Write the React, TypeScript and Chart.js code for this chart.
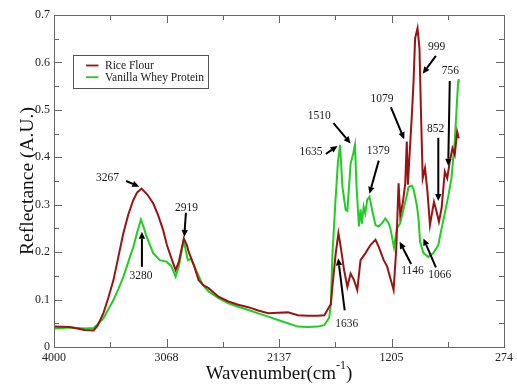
import { useEffect, useRef } from "react";
import { Chart, registerables } from "chart.js";

Chart.register(...registerables);

const xTickValues = [4000, 3068, 2137, 1205, 274];
const xTickLabels = ["4000", "3068", "2137", "1205", "274"];
const yTickValues = [0, 0.1, 0.2, 0.3, 0.4, 0.5, 0.6, 0.7];
const yTickLabels = ["0", "0.1", "0.2", "0.3", "0.4", "0.5", "0.6", "0.7"];

const seriesNames = ["Rice Flour", "Vanilla Whey Protein"];

const riceWavenumber = [
  4000, 3869, 3746, 3672, 3639, 3590, 3549, 3508, 3467, 3426, 3384, 3343, 3311, 3275, 3229, 3179, 3138, 3097,
  3065, 3029, 2993, 2966, 2941, 2925, 2900, 2884, 2843, 2802, 2761, 2720, 2638, 2556, 2474, 2391, 2309, 2227,
  2145, 2063, 1981, 1899, 1817, 1762, 1721, 1708, 1694, 1667, 1645, 1626, 1598, 1571, 1544, 1516, 1489, 1462,
  1421, 1380, 1338, 1311, 1270, 1242, 1215, 1188, 1166, 1147, 1133, 1111, 1092, 1079, 1070, 1056, 1037, 1023,
  1010, 990, 974, 961, 947, 928, 908, 887, 873, 854, 832, 813, 791, 764, 744, 723, 701, 682, 662, 649,
];
const riceReflectance = [
  0.043, 0.042, 0.036, 0.035, 0.045, 0.072, 0.105, 0.141, 0.19, 0.24, 0.28, 0.31, 0.326, 0.334, 0.322, 0.303, 0.278, 0.247,
  0.215, 0.188, 0.162, 0.18, 0.21, 0.229, 0.215, 0.2, 0.173, 0.141, 0.13, 0.124, 0.106, 0.096, 0.089, 0.084, 0.077, 0.071,
  0.072, 0.073, 0.067, 0.066, 0.066, 0.067, 0.085, 0.09, 0.13, 0.198, 0.24, 0.211, 0.162, 0.127, 0.155, 0.141, 0.12, 0.183,
  0.198, 0.215, 0.226, 0.211, 0.183, 0.17, 0.145, 0.12, 0.208, 0.345, 0.278, 0.306, 0.344, 0.433, 0.342, 0.405, 0.489, 0.559,
  0.651, 0.672, 0.63, 0.489, 0.356, 0.377, 0.328, 0.257, 0.278, 0.306, 0.285, 0.264, 0.292, 0.37, 0.356, 0.391, 0.419, 0.405, 0.454, 0.44,
];

const wheyWavenumber = [
  4000, 3869, 3746, 3672, 3639, 3590, 3549, 3508, 3467, 3426, 3384, 3343, 3311, 3280, 3261, 3234, 3179, 3124,
  3070, 3029, 2993, 2966, 2941, 2925, 2892, 2865, 2824, 2769, 2720, 2638, 2556, 2474, 2391, 2309, 2227, 2145,
  2063, 1981, 1899, 1817, 1762, 1721, 1708, 1694, 1669, 1649, 1631, 1612, 1585, 1571, 1544, 1522, 1508, 1495,
  1475, 1462, 1450, 1436, 1423, 1407, 1388, 1366, 1338, 1311, 1284, 1257, 1229, 1215, 1185, 1160, 1133, 1105,
  1078, 1064, 1037, 1023, 996, 982, 969, 941, 900, 859, 818, 791, 764, 736, 709, 682, 668, 654, 649,
];
const wheyReflectance = [
  0.039, 0.041, 0.039, 0.04, 0.048, 0.061, 0.08, 0.099, 0.122, 0.148, 0.18, 0.211, 0.242, 0.269, 0.255, 0.233, 0.198, 0.183,
  0.18, 0.171, 0.148, 0.17, 0.205, 0.224, 0.183, 0.186, 0.162, 0.131, 0.117, 0.103, 0.092, 0.085, 0.078, 0.071, 0.064, 0.057,
  0.05, 0.043, 0.042, 0.043, 0.046, 0.062, 0.09, 0.198, 0.31, 0.39, 0.426, 0.338, 0.289, 0.287, 0.387, 0.408, 0.426, 0.338,
  0.254, 0.29, 0.26, 0.296, 0.282, 0.31, 0.317, 0.289, 0.257, 0.254, 0.261, 0.271, 0.261, 0.25, 0.21, 0.25, 0.261, 0.292,
  0.32, 0.338, 0.34, 0.333, 0.299, 0.271, 0.222, 0.198, 0.19, 0.198, 0.215, 0.25, 0.282, 0.317, 0.356, 0.433, 0.496, 0.559, 0.565,
];

// peak annotations, in data coordinates (wavenumber, reflectance)
const peakLabels = ["3267", "3280", "2919", "1635", "1510", "1379", "1079", "999", "756", "852", "1146", "1066", "1636"];
const peakTextWn = [3557, 3280, 2903, 1872, 1803, 1316, 1284, 832, 717, 840, 1031, 805, 1576];
const peakTextVal = [0.357, 0.15, 0.294, 0.412, 0.487, 0.414, 0.523, 0.633, 0.583, 0.459, 0.16, 0.152, 0.048];
const arrowFromWn = [3403, 3272, 2908, 1749, 1686, 1311, 1210, 838, 723, 818, 1043, 838, 1593];
const arrowFromVal = [0.35, 0.169, 0.283, 0.407, 0.472, 0.393, 0.505, 0.614, 0.561, 0.441, 0.175, 0.168, 0.077];
const arrowToWn = [3294, 3272, 2921, 1653, 1544, 1388, 1100, 947, 736, 818, 1138, 941, 1647];
const arrowToVal = [0.338, 0.243, 0.232, 0.424, 0.429, 0.323, 0.438, 0.576, 0.382, 0.308, 0.222, 0.229, 0.187];

const RED = "#981414";
const GREEN = "#22cc22";
const SERIF = '"Liberation Serif", "Times New Roman", serif';

function toPoints(xs: number[], ys: number[]) {
  return xs.map((x, i) => ({ x, y: ys[i] }));
}

const decorPlugin = {
  id: "decor",
  afterDatasetsDraw(chart: any) {
    const ctx = chart.ctx as CanvasRenderingContext2D;
    const xs = chart.scales.x;
    const ys = chart.scales.y;
    const a = chart.chartArea;
    ctx.save();

    // frame
    ctx.strokeStyle = "#666";
    ctx.lineWidth = 1;
    ctx.strokeRect(Math.round(a.left) + 0.5, Math.round(a.top) + 0.5, Math.round(a.right - a.left), Math.round(a.bottom - a.top));

    // inside ticks
    ctx.beginPath();
    for (let i = 0; i < xTickValues.length; i++) {
      const px = Math.round(xs.getPixelForValue(xTickValues[i])) + 0.5;
      ctx.moveTo(px, a.bottom);
      ctx.lineTo(px, a.bottom - 8);
      ctx.moveTo(px, a.top);
      ctx.lineTo(px, a.top + 8);
      if (i < xTickValues.length - 1) {
        const mid = (xTickValues[i] + xTickValues[i + 1]) / 2;
        const pm = Math.round(xs.getPixelForValue(mid)) + 0.5;
        ctx.moveTo(pm, a.bottom);
        ctx.lineTo(pm, a.bottom - 5);
        ctx.moveTo(pm, a.top);
        ctx.lineTo(pm, a.top + 5);
      }
    }
    for (let i = 0; i < yTickValues.length; i++) {
      const py = Math.round(ys.getPixelForValue(yTickValues[i])) + 0.5;
      ctx.moveTo(a.left, py);
      ctx.lineTo(a.left + 8, py);
      ctx.moveTo(a.right, py);
      ctx.lineTo(a.right - 8, py);
      if (i < yTickValues.length - 1) {
        const mid = (yTickValues[i] + yTickValues[i + 1]) / 2;
        const pm = Math.round(ys.getPixelForValue(mid)) + 0.5;
        ctx.moveTo(a.left, pm);
        ctx.lineTo(a.left + 5, pm);
        ctx.moveTo(a.right, pm);
        ctx.lineTo(a.right - 5, pm);
      }
    }
    ctx.stroke();

    // annotations
    ctx.strokeStyle = "#000";
    ctx.font = `11.5px ${SERIF}`;
    ctx.textAlign = "center";
    ctx.textBaseline = "middle";
    for (let i = 0; i < peakLabels.length; i++) {
      const tx = xs.getPixelForValue(peakTextWn[i]);
      const ty = ys.getPixelForValue(peakTextVal[i]);
      ctx.fillStyle = "#1a1a1a";
      ctx.fillText(peakLabels[i], tx, ty);
      const x0 = xs.getPixelForValue(arrowFromWn[i]);
      const y0 = ys.getPixelForValue(arrowFromVal[i]);
      const x1 = xs.getPixelForValue(arrowToWn[i]);
      const y1 = ys.getPixelForValue(arrowToVal[i]);
      const ang = Math.atan2(y1 - y0, x1 - x0);
      const head = 7;
      const bx = x1 - head * Math.cos(ang);
      const by = y1 - head * Math.sin(ang);
      ctx.lineWidth = 2;
      ctx.beginPath();
      ctx.moveTo(x0, y0);
      ctx.lineTo(bx, by);
      ctx.stroke();
      ctx.fillStyle = "#000";
      ctx.beginPath();
      ctx.moveTo(x1, y1);
      ctx.lineTo(bx + 3.2 * Math.sin(ang), by - 3.2 * Math.cos(ang));
      ctx.lineTo(bx - 3.2 * Math.sin(ang), by + 3.2 * Math.cos(ang));
      ctx.closePath();
      ctx.fill();
    }

    // legend
    const lx = a.left + 19.5;
    const ly = a.top + 40.5;
    ctx.lineWidth = 1;
    ctx.strokeStyle = "#555";
    ctx.strokeRect(lx, ly, 135, 33);
    const colors = [RED, GREEN];
    ctx.font = `11.5px ${SERIF}`;
    ctx.textAlign = "left";
    ctx.textBaseline = "middle";
    for (let i = 0; i < seriesNames.length; i++) {
      const yy = ly + 10 + i * 11.7;
      ctx.strokeStyle = colors[i];
      ctx.lineWidth = 1.8;
      ctx.beginPath();
      ctx.moveTo(lx + 12.5, yy);
      ctx.lineTo(lx + 25, yy);
      ctx.stroke();
      ctx.fillStyle = "#1a1a1a";
      ctx.fillText(seriesNames[i], lx + 31.5, yy + 0.5);
    }

    // axis titles
    ctx.fillStyle = "#111";
    ctx.textBaseline = "alphabetic";
    const main = "Wavenumber(cm";
    const sup = "-1";
    const close = ")";
    ctx.font = `19px ${SERIF}`;
    const wMain = ctx.measureText(main).width;
    const wClose = ctx.measureText(close).width;
    ctx.font = `12px ${SERIF}`;
    const wSup = ctx.measureText(sup).width;
    const total = wMain + wSup + wClose;
    const cx = (a.left + a.right) / 2;
    let sx = cx - total / 2;
    const base = a.bottom + 32;
    ctx.textAlign = "left";
    ctx.font = `19px ${SERIF}`;
    ctx.fillText(main, sx, base);
    sx += wMain;
    ctx.font = `12px ${SERIF}`;
    ctx.fillText(sup, sx, base - 10);
    sx += wSup;
    ctx.font = `19px ${SERIF}`;
    ctx.fillText(close, sx, base);

    ctx.save();
    ctx.translate(33, (a.top + a.bottom) / 2);
    ctx.rotate(-Math.PI / 2);
    ctx.textAlign = "center";
    ctx.font = `19.5px ${SERIF}`;
    ctx.fillText("Reflectance (A.U.)", 0, 0);
    ctx.restore();

    ctx.restore();
  },
};

export default function App() {
  const ref = useRef<HTMLCanvasElement | null>(null);
  useEffect(() => {
    if (!ref.current) return;
    const chart = new Chart(ref.current, {
      type: "line",
      data: {
        datasets: [
          {
            label: seriesNames[0],
            data: toPoints(riceWavenumber, riceReflectance),
            borderColor: RED,
            borderWidth: 2,
            pointRadius: 0,
            tension: 0,
            fill: false,
          },
          {
            label: seriesNames[1],
            data: toPoints(wheyWavenumber, wheyReflectance),
            borderColor: GREEN,
            borderWidth: 2,
            pointRadius: 0,
            tension: 0,
            fill: false,
          },
        ],
      },
      options: {
        animation: false,
        responsive: false,
        maintainAspectRatio: false,
        layout: { padding: { left: 0, top: 15, right: 9, bottom: 0 } },
        plugins: { legend: { display: false }, tooltip: { enabled: false } },
        scales: {
          x: {
            type: "linear",
            reverse: true,
            min: 274,
            max: 4000,
            grid: { display: false, drawTicks: false },
            border: { display: false },
            afterBuildTicks: (s: any) => {
              s.ticks = xTickValues.map((v) => ({ value: v }));
            },
            afterFit: (s: any) => {
              s.height = 40;
            },
            ticks: {
              maxRotation: 0,
              autoSkip: false,
              padding: 4,
              color: "#222",
              font: { family: SERIF, size: 12 },
              callback: (_v: any, i: number) => xTickLabels[i],
            },
          },
          y: {
            type: "linear",
            min: 0,
            max: 0.7,
            grid: { display: false, drawTicks: false },
            border: { display: false },
            afterBuildTicks: (s: any) => {
              s.ticks = yTickValues.map((v) => ({ value: v }));
            },
            afterFit: (s: any) => {
              s.width = 54;
            },
            ticks: {
              autoSkip: false,
              padding: 4,
              color: "#222",
              font: { family: SERIF, size: 12 },
              callback: (_v: any, i: number) => yTickLabels[i],
            },
          },
        },
      },
      plugins: [decorPlugin],
    });
    return () => chart.destroy();
  }, []);
  return (
    <div style={{ position: "fixed", left: 0, top: 0, width: 517, height: 387, background: "#fff" }}>
      <canvas ref={ref} width={517} height={387} style={{ width: 517, height: 387, display: "block" }} />
    </div>
  );
}
